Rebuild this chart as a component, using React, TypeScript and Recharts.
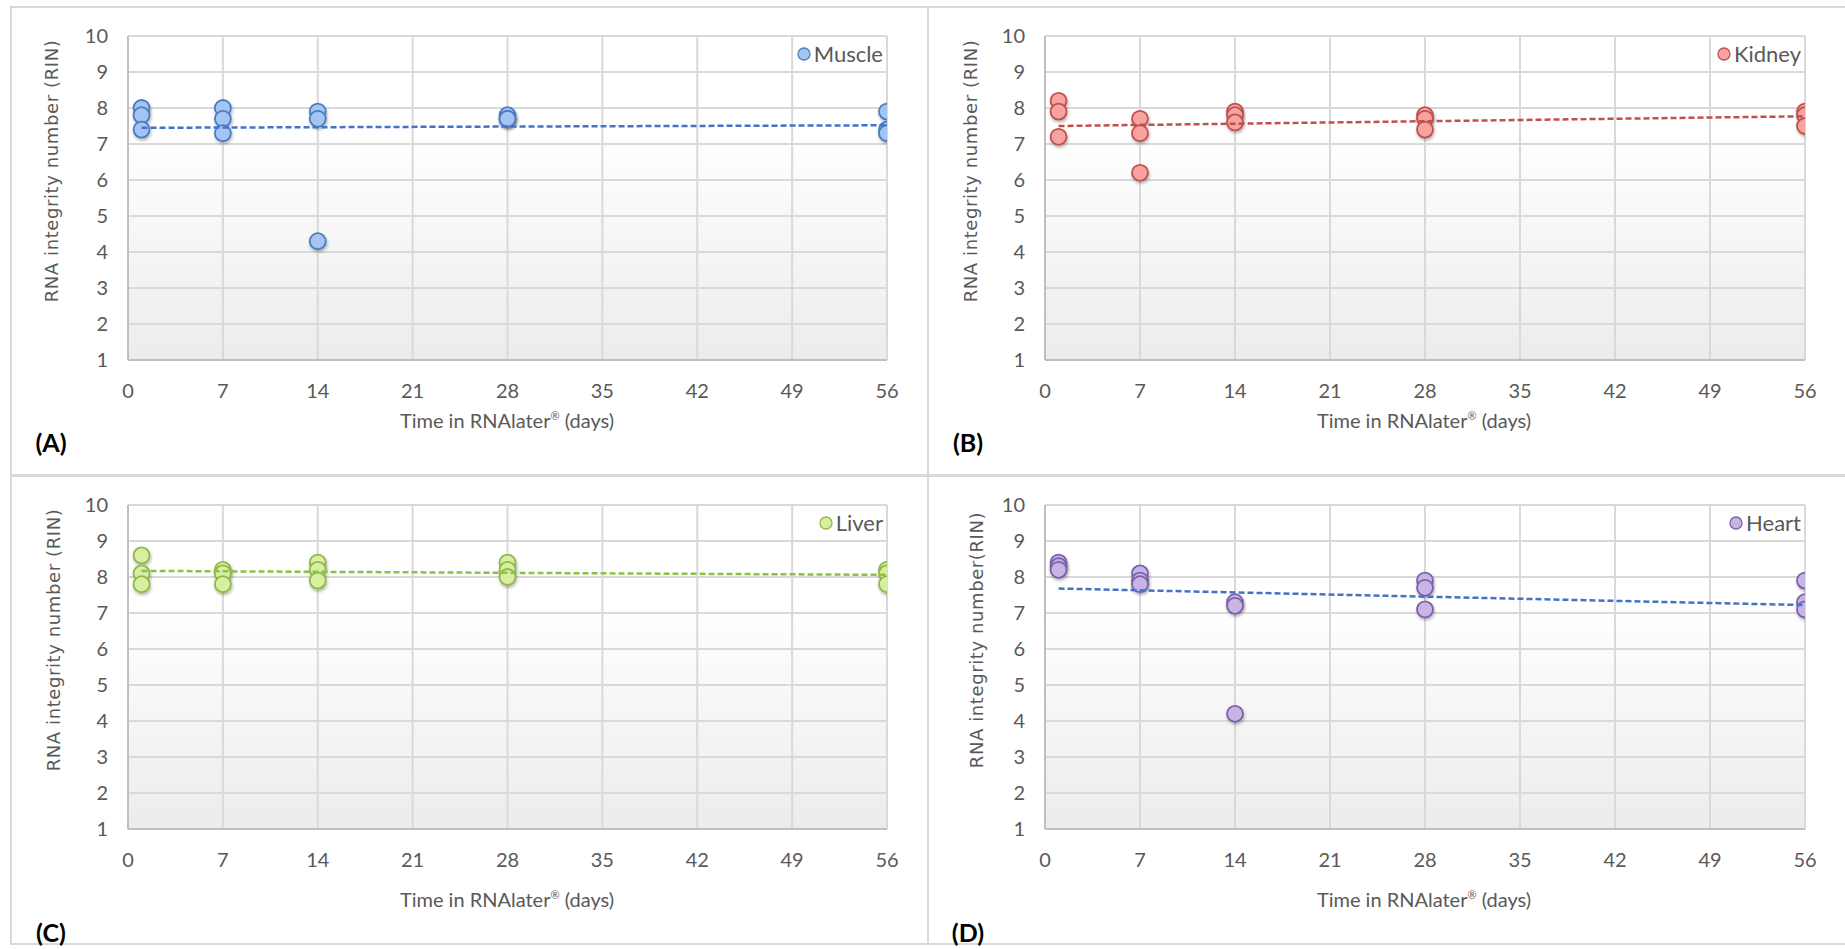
import React from "react";
import { ScatterChart, Scatter, XAxis, YAxis, CartesianGrid } from "recharts";

// sampling days (3 animals per time point)
const days = [1, 1, 1, 7, 7, 7, 14, 14, 14, 28, 28, 28, 56, 56, 56];
const trendDays = [1, 56];
const xTicks = [0, 7, 14, 21, 28, 35, 42, 49, 56];
const yTicks = [1, 2, 3, 4, 5, 6, 7, 8, 9, 10];

// RIN values
const muscleRin = [8.0, 7.8, 7.4, 8.0, 7.7, 7.3, 7.9, 7.7, 4.3, 7.8, 7.7, 7.7, 7.9, 7.4, 7.3];
const kidneyRin = [8.2, 7.9, 7.2, 7.7, 7.3, 6.2, 7.9, 7.8, 7.6, 7.8, 7.7, 7.4, 7.9, 7.8, 7.5];
const liverRin = [8.6, 8.1, 7.8, 8.2, 8.1, 7.8, 8.4, 8.2, 7.9, 8.4, 8.2, 8.0, 8.2, 8.1, 7.8];
const heartRin = [8.4, 8.3, 8.2, 8.1, 7.9, 7.8, 7.3, 7.2, 4.2, 7.9, 7.7, 7.1, 7.9, 7.3, 7.1];

// linear trendline ends (day 1 and day 56)
const muscleTrend = [7.45, 7.52];
const kidneyTrend = [7.5, 7.77];
const liverTrend = [8.17, 8.06];
const heartTrend = [7.68, 7.22];

const tickFont = "Lato, 'Open Sans', sans-serif";

type PanelProps = {
  id: string;
  name: string;
  values: number[];
  trend: number[];
  fill: string;
  stroke: string;
  trendColor: string;
  left: number;
  top: number;
  width: number;
  tag: string;
  tagY: number;
  titleY: number;
  yTitle: string;
  yTitleX: number;
};

const CHART_H = 466;
const MARGIN = { top: 28, right: 40, bottom: 74, left: 56 };

function Panel(p: PanelProps) {
  const points = days.map((d, i) => ({ day: d, rin: p.values[i] }));
  const trendLine = trendDays.map((d, i) => ({ day: d, rin: p.trend[i] }));
  const chartW = p.width - 4;

  const dot = (props: any) => (
    <circle
      cx={props.cx}
      cy={props.cy}
      r={8}
      fill={p.fill}
      stroke={p.stroke}
      strokeWidth={1.8}
      filter={`url(#shadow-${p.id})`}
    />
  );

  return (
    <div
      style={{
        position: "absolute",
        left: p.left,
        top: p.top,
        width: p.width,
        height: CHART_H + 4,
        border: "2px solid #d9d9d9",
        boxSizing: "border-box",
        background: "#fff",
      }}
    >
      <ScatterChart width={chartW} height={CHART_H} margin={MARGIN}>
        <defs>
          <linearGradient id={`bg-${p.id}`} x1="0" y1="0" x2="0" y2="1">
            <stop offset="0%" stopColor="#ffffff" />
            <stop offset="30%" stopColor="#ffffff" />
            <stop offset="100%" stopColor="#ececec" />
          </linearGradient>
          <filter id={`shadow-${p.id}`} x="-50%" y="-50%" width="200%" height="200%">
            <feDropShadow dx="0.8" dy="2" stdDeviation="1.4" floodColor="#000" floodOpacity="0.3" />
          </filter>
        </defs>
        <CartesianGrid
          stroke="#d9d9d9"
          strokeWidth={2}
          fill={`url(#bg-${p.id})`}
          fillOpacity={1}
          horizontalValues={yTicks}
          verticalValues={xTicks}
        />
        <XAxis
          type="number"
          dataKey="day"
          domain={[0, 56]}
          ticks={xTicks}
          interval={0}
          height={40}
          tickSize={0}
          tickMargin={24}
          axisLine={{ stroke: "#bfbfbf", strokeWidth: 2 }}
          tick={{ fill: "#595959", fontSize: 20, fontFamily: tickFont }}
          allowDataOverflow
        />
        <YAxis
          type="number"
          dataKey="rin"
          domain={[1, 10]}
          ticks={yTicks}
          interval={0}
          width={60}
          tickSize={0}
          tickMargin={20}
          axisLine={{ stroke: "#bfbfbf", strokeWidth: 2 }}
          tick={{ fill: "#595959", fontSize: 20, fontFamily: tickFont }}
          allowDataOverflow
        />
        <Scatter
          name={p.name}
          data={points}
          shape={dot}
          isAnimationActive={false}
        />
        <Scatter
          name={`${p.name} trend`}
          data={trendLine}
          line={{ stroke: p.trendColor, strokeWidth: 2.5, strokeDasharray: "6 3" }}
          shape={() => <g />}
          legendType="none"
          isAnimationActive={false}
        />
      </ScatterChart>

      {/* y axis title */}
      <div
        style={{
          position: "absolute",
          left: p.yTitleX,
          top: 163,
          transform: "translate(-50%, -50%) rotate(-90deg)",
          whiteSpace: "nowrap",
          fontFamily: "'DejaVu Sans', sans-serif",
          fontSize: 18,
          letterSpacing: 0.6,
          color: "#595959",
        }}
      >
        {p.yTitle}
      </div>

      {/* x axis title */}
      <div
        style={{
          position: "absolute",
          left: 495,
          top: p.titleY,
          transform: "translate(-50%, -50%)",
          whiteSpace: "nowrap",
          fontFamily: tickFont,
          fontSize: 20,
          color: "#595959",
        }}
      >
        Time in RNAlater
        <span style={{ fontSize: 11, verticalAlign: 8 }}>®</span> (days)
      </div>

      {/* legend */}
      <div
        style={{
          position: "absolute",
          right: 44,
          top: 32,
          display: "flex",
          alignItems: "center",
          gap: 3,
          fontFamily: tickFont,
          fontSize: 22,
          color: "#595959",
        }}
      >
        <svg width={14} height={14}>
          <circle cx={7} cy={7} r={6} fill={p.fill} stroke={p.stroke} strokeWidth={1.3} />
        </svg>
        <span>{p.name}</span>
      </div>

      {/* panel tag */}
      <div
        style={{
          position: "absolute",
          left: 39,
          top: p.tagY,
          transform: "translate(-50%, -50%)",
          fontFamily: tickFont,
          fontWeight: 700,
          fontSize: 25,
          color: "#000",
        }}
      >
        {p.tag}
      </div>
    </div>
  );
}

export default function App() {
  return (
    <div
      style={{
        position: "absolute",
        left: 0,
        top: 0,
        width: 1845,
        height: 949,
        background: "#fff",
        overflow: "hidden",
      }}
    >
      <Panel
        id="a"
        name="Muscle"
        values={muscleRin}
        trend={muscleTrend}
        fill="#a4c5f4"
        stroke="#4a7dc2"
        trendColor="#4472c4"
        left={10}
        top={6}
        width={919}
        tag="(A)"
        tagY={434}
        titleY={412}
        yTitle="RNA integrity number (RIN)"
        yTitleX={39}
      />
      <Panel
        id="b"
        name="Kidney"
        values={kidneyRin}
        trend={kidneyTrend}
        fill="#f7a3a1"
        stroke="#c0504d"
        trendColor="#c0504d"
        left={927}
        top={6}
        width={920}
        tag="(B)"
        tagY={434}
        titleY={412}
        yTitle="RNA integrity number (RIN)"
        yTitleX={41}
      />
      <Panel
        id="c"
        name="Liver"
        values={liverRin}
        trend={liverTrend}
        fill="#d8efa3"
        stroke="#8fb944"
        trendColor="#8fbf45"
        left={10}
        top={475}
        width={919}
        tag="(C)"
        tagY={455}
        titleY={422}
        yTitle="RNA integrity number (RIN)"
        yTitleX={41}
      />
      <Panel
        id="d"
        name="Heart"
        values={heartRin}
        trend={heartTrend}
        fill="#c8b5e6"
        stroke="#7b60a8"
        trendColor="#4472c4"
        left={927}
        top={475}
        width={920}
        tag="(D)"
        tagY={455}
        titleY={422}
        yTitle="RNA integrity number(RIN)"
        yTitleX={47}
      />
    </div>
  );
}
